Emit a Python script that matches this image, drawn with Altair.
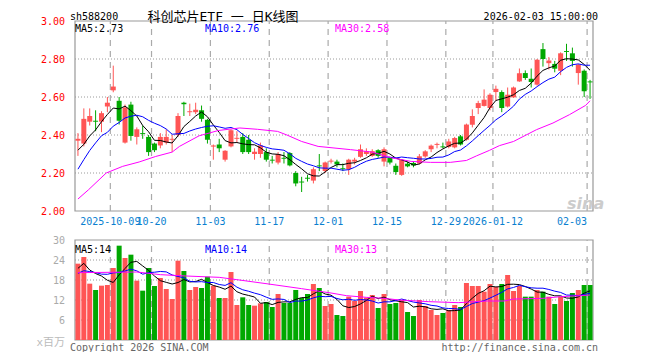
import altair as alt
import pandas as pd
import numpy as np

# ---------------- data ----------------
opens = [2.37, 2.355, 2.47, 2.475, 2.47, 2.55, 2.635, 2.58, 2.36, 2.56,
         2.39, 2.41, 2.39, 2.355, 2.345, 2.36, 2.375, 2.40, 2.57, 2.52,
         2.52, 2.53, 2.48, 2.339, 2.35, 2.27, 2.34, 2.38, 2.39, 2.375,
         2.30, 2.30, 2.31, 2.27, 2.255, 2.28, 2.305, 2.20, 2.155, 2.175,
         2.16, 2.24, 2.21, 2.26, 2.26, 2.225, 2.22, 2.26, 2.285, 2.30,
         2.29, 2.32, 2.26, 2.28, 2.238, 2.19, 2.249, 2.253, 2.25, 2.287,
         2.325, 2.348, 2.34, 2.337, 2.335, 2.393, 2.375, 2.454, 2.542, 2.553,
         2.542, 2.626, 2.626, 2.55, 2.598, 2.682, 2.726, 2.696, 2.665, 2.852,
         2.778, 2.774, 2.738, 2.842, 2.83, 2.726, 2.738, 2.682]
highs = [2.41, 2.54, 2.54, 2.53, 2.525, 2.60, 2.765, 2.60, 2.56, 2.575,
         2.44, 2.45, 2.40, 2.36, 2.41, 2.43, 2.40, 2.515, 2.575, 2.565,
         2.57, 2.555, 2.485, 2.35, 2.38, 2.32, 2.43, 2.42, 2.41, 2.40,
         2.33, 2.36, 2.33, 2.29, 2.31, 2.31, 2.31, 2.21, 2.18, 2.19,
         2.23, 2.30, 2.26, 2.275, 2.27, 2.25, 2.275, 2.28, 2.35, 2.33,
         2.325, 2.325, 2.335, 2.285, 2.25, 2.27, 2.26, 2.26, 2.30, 2.32,
         2.35, 2.36, 2.36, 2.38, 2.39, 2.40, 2.46, 2.535, 2.58, 2.64,
         2.62, 2.66, 2.635, 2.65, 2.655, 2.75, 2.74, 2.75, 2.80, 2.884,
         2.81, 2.79, 2.835, 2.88, 2.86, 2.774, 2.745, 2.69]
lows = [2.29, 2.34, 2.45, 2.42, 2.415, 2.52, 2.625, 2.455, 2.355, 2.37,
        2.35, 2.38, 2.29, 2.31, 2.33, 2.35, 2.31, 2.39, 2.50, 2.50,
        2.51, 2.47, 2.355, 2.27, 2.31, 2.26, 2.335, 2.36, 2.30, 2.30,
        2.27, 2.28, 2.26, 2.25, 2.245, 2.25, 2.235, 2.13, 2.10, 2.155,
        2.145, 2.21, 2.20, 2.25, 2.23, 2.21, 2.19, 2.245, 2.28, 2.29,
        2.285, 2.28, 2.235, 2.245, 2.19, 2.185, 2.23, 2.23, 2.245, 2.28,
        2.31, 2.33, 2.33, 2.33, 2.33, 2.345, 2.37, 2.44, 2.51, 2.55,
        2.53, 2.58, 2.52, 2.545, 2.595, 2.68, 2.69, 2.65, 2.66, 2.76,
        2.745, 2.73, 2.715, 2.79, 2.76, 2.665, 2.60, 2.59]
closes = [2.38, 2.485, 2.50, 2.47, 2.515, 2.57, 2.655, 2.475, 2.545, 2.395,
          2.43, 2.405, 2.31, 2.32, 2.39, 2.39, 2.38, 2.50, 2.562, 2.525,
          2.533, 2.485, 2.375, 2.345, 2.33, 2.317, 2.425, 2.385, 2.31, 2.31,
          2.312, 2.345, 2.27, 2.265, 2.30, 2.275, 2.24, 2.145, 2.15, 2.17,
          2.22, 2.235, 2.255, 2.265, 2.245, 2.22, 2.27, 2.27, 2.325, 2.315,
          2.315, 2.29, 2.325, 2.255, 2.205, 2.27, 2.235, 2.24, 2.288, 2.314,
          2.344, 2.353, 2.335, 2.366, 2.384, 2.35, 2.455, 2.50, 2.568, 2.586,
          2.612, 2.643, 2.542, 2.612, 2.65, 2.725, 2.70, 2.679, 2.796, 2.80,
          2.792, 2.749, 2.83, 2.837, 2.79, 2.77, 2.63, 2.677]
volumes = [22.9, 24.9, 16.9, 15.0, 16.3, 16.5, 21.6, 28.3, 24.6, 25.6,
           17.8, 14.8, 21.6, 16.2, 18.6, 15.3, 12.3, 23.8, 20.7, 15.0,
           15.9, 15.6, 19.0, 16.3, 12.6, 12.6, 20.4, 10.5, 12.8, 10.5,
           10.3, 11.0, 11.4, 9.9, 13.8, 11.1, 11.1, 15.0, 12.6, 13.8,
           16.8, 15.6, 10.2, 10.8, 7.5, 7.2, 13.0, 11.7, 14.7, 12.7,
           13.5, 9.6, 13.8, 10.8, 11.1, 12.0, 8.4, 7.2, 12.0, 10.2,
           9.0, 7.5, 8.1, 9.0, 10.5, 9.9, 17.1, 16.2, 16.2, 14.5,
           16.8, 15.9, 16.8, 19.5, 14.7, 16.2, 13.0, 13.0, 15.0, 14.5,
           13.0, 10.8, 13.0, 11.7, 14.1, 15.0, 16.5, 16.5]
# sessions just before the window (estimated from where the MA lines start)
prior_close = [1.98, 2.02, 2.07, 2.14, 2.39, 2.33, 2.28, 2.31, 2.30]
prior_volume = [17.0, 19.5, 18.0, 21.0, 17.0, 17.4, 26.9, 20.3, 20.0]

# MA30 lines (session index, value)
ma30_idx = [0, 1.8, 4.8, 7.6, 10.4, 13.2, 16, 17.25, 20.6, 23.9, 27.5, 30.5, 33.9,
            35.5, 38, 40.8, 46.3, 50, 53.25, 56.6, 59.9, 63.25, 66, 67.7, 69.9,
            71.6, 74, 77.9, 80.7, 83.5, 86.25, 87]
ma30_val = [2.063, 2.112, 2.20, 2.235, 2.258, 2.287, 2.31, 2.34, 2.396, 2.424, 2.437,
            2.43, 2.419, 2.40, 2.366, 2.34, 2.323, 2.31, 2.28, 2.261, 2.256, 2.256,
            2.266, 2.29, 2.319, 2.344, 2.366, 2.428, 2.463, 2.507, 2.556, 2.58]
vma30_idx = [0, 10, 14, 18.4, 24, 27, 32.4, 38, 43, 45.6, 49, 52, 54.6, 59.6,
             64.6, 69.6, 72.4, 74, 79, 82, 85.3, 87]
vma30_val = [20.2, 20.4, 19.6, 19.2, 18.8, 18.1, 16.8, 15.4, 14.1, 13.3, 12.8, 12.5,
             12.0, 11.5, 11.2, 11.7, 11.7, 12.3, 12.5, 13.0, 13.3, 13.5]

tick_index = [6, 13, 23, 33, 43, 53, 63, 71, 87]
tick_label = ["2025-10-09", "10-20", "11-03", "11-17", "12-01", "12-15",
              "12-29", "2026-01-12", "02-03"]
price_ticks = [2.00, 2.20, 2.40, 2.60, 2.80, 3.00]
vol_ticks = [6, 12, 18, 24, 30]
price_domain = [2.0, 3.0]
vol_domain = [0, 30]
ma_price_last = ["2.73", "2.76", "2.58"]
ma_vol_last = ["14", "14", "13"]

# ---------------- styling / layout ----------------
RED, GREEN = "#ff5555", "#00a800"
BLUE_TXT = "#0a7fd0"
MONO = "DejaVu Sans Mono"
CJK = "DejaVu Sans Mono, Noto Sans CJK SC"
W, H = 528, 319
P_RANGE = [190, 0]
V_RANGE = [319, 219]

n = len(closes)
XS = alt.Scale(domain=[-0.5, n - 0.5], nice=False, zero=False)
PS = alt.Scale(domain=price_domain, range=P_RANGE, nice=False, zero=False)
VS = alt.Scale(domain=vol_domain, range=V_RANGE, nice=False)

df = pd.DataFrame(dict(i=np.arange(n), open=opens, high=highs, low=lows,
                       close=closes, vol=volumes))
df["dir"] = np.where(df["close"] >= df["open"], "up", "down")
pc = pd.Series(prior_close + closes)
pv = pd.Series(prior_volume + volumes)
df["ma5"] = pc.rolling(5).mean().to_numpy()[len(prior_close):]
df["ma10"] = pc.rolling(10).mean().to_numpy()[len(prior_close):]
df["vma5"] = pv.rolling(5).mean().to_numpy()[len(prior_volume):]
df["vma10"] = pv.rolling(10).mean().to_numpy()[len(prior_volume):]

ma30_df = pd.DataFrame({"i": ma30_idx, "v": ma30_val})
vma30_df = pd.DataFrame({"i": vma30_idx, "v": vma30_val})

color = alt.Color("dir:N", scale=alt.Scale(domain=["up", "down"], range=[RED, GREEN]),
                  legend=None)
X = alt.X("i:Q", scale=XS, axis=None)


def Yp(f):
    return alt.Y(f, scale=PS, axis=None)


def Yv(f):
    return alt.Y(f, scale=VS, axis=None)


lo, hi = -0.5, n - 0.5
frame_df = pd.DataFrame({"x1": [lo], "x2": [hi], "p1": [price_domain[0]], "p2": [price_domain[1]],
                         "v1": [vol_domain[0]], "v2": [vol_domain[1]]})
frame_p = alt.Chart(frame_df).mark_rect(fillOpacity=0, stroke="#999999", strokeWidth=1.2).encode(
    x=alt.X("x1:Q", scale=XS, axis=None), x2="x2:Q", y=Yp("p1:Q"), y2="p2:Q")
frame_v = alt.Chart(frame_df).mark_rect(fillOpacity=0, stroke="#999999", strokeWidth=1.2).encode(
    x=alt.X("x1:Q", scale=XS, axis=None), x2="x2:Q", y=Yv("v1:Q"), y2="v2:Q")

hg_p = pd.DataFrame({"p": price_ticks[1:-1], "x1": lo, "x2": hi})
hg_v = pd.DataFrame({"v": vol_ticks[:-1], "x1": lo, "x2": hi})
hgrid_p = alt.Chart(hg_p).mark_rule(color="#9a9a9a", strokeDash=[1, 2]).encode(
    x=alt.X("x1:Q", scale=XS, axis=None), x2="x2:Q", y=Yp("p:Q"))
hgrid_v = alt.Chart(hg_v).mark_rule(color="#9a9a9a", strokeDash=[1, 2]).encode(
    x=alt.X("x1:Q", scale=XS, axis=None), x2="x2:Q", y=Yv("v:Q"))

vg = pd.DataFrame({"x": [t - 0.5 for t in tick_index], "label": tick_label,
                   "p1": price_domain[0], "p2": price_domain[1],
                   "v1": vol_domain[0], "v2": vol_domain[1]})
vgrid_p = alt.Chart(vg).mark_rule(color="#aaaaaa", strokeDash=[6, 5], strokeWidth=1.2).encode(
    x=alt.X("x:Q", scale=XS, axis=None), y=Yp("p1:Q"), y2="p2:Q")
vgrid_v = alt.Chart(vg).mark_rule(color="#aaaaaa", strokeDash=[6, 5], strokeWidth=1.2).encode(
    x=alt.X("x:Q", scale=XS, axis=None), y=Yv("v1:Q"), y2="v2:Q")

base = alt.Chart(df)
wick = base.mark_rule(strokeWidth=1).encode(x=X, y=Yp("low:Q"), y2="high:Q", color=color)
body = base.mark_bar(size=5).encode(x=X, y=Yp("open:Q"), y2="close:Q", color=color)
vbar = base.mark_bar(size=5).encode(x=X, y=Yv("vol:Q"), color=color)

ma5 = base.mark_line(color="#000000", strokeWidth=1).encode(x=X, y=Yp("ma5:Q"))
ma10 = base.mark_line(color="#0000ff", strokeWidth=1).encode(x=X, y=Yp("ma10:Q"))
ma30 = alt.Chart(ma30_df).mark_line(color="#ff00ff", strokeWidth=1).encode(x=X, y=Yp("v:Q"))
vma5 = base.mark_line(color="#000000", strokeWidth=1).encode(x=X, y=Yv("vma5:Q"))
vma10 = base.mark_line(color="#0000ff", strokeWidth=1).encode(x=X, y=Yv("vma10:Q"))
vma30 = alt.Chart(vma30_df).mark_line(color="#ff00ff", strokeWidth=1).encode(x=X, y=Yv("v:Q"))

pt_df = pd.DataFrame({"p": price_ticks, "label": [f"{v:.2f}" for v in price_ticks]})
plabels = alt.Chart(pt_df).mark_text(align="right", baseline="middle", color="#ff0000",
                                     font=MONO, fontSize=10, dy=1).encode(
    y=Yp("p:Q"), x=alt.value(-5), text="label:N")
vt_df = pd.DataFrame({"v": vol_ticks, "label": [str(v) for v in vol_ticks]})
vlabels = alt.Chart(vt_df).mark_text(align="right", baseline="middle", color="#aaaaaa",
                                     font=MONO, fontSize=10, dy=1).encode(
    y=Yv("v:Q"), x=alt.value(-5), text="label:N")

dlabels = alt.Chart(vg.iloc[:-1]).mark_text(align="center", baseline="middle", color=BLUE_TXT,
                                            font=MONO, fontSize=10).encode(
    x=alt.X("x:Q", scale=XS, axis=None), y=alt.value(201), text="label:N")
dlabel_last = alt.Chart(vg.iloc[-1:]).mark_text(align="right", baseline="middle", color=BLUE_TXT,
                                                font=MONO, fontSize=10).encode(
    x=alt.X("x:Q", scale=XS, axis=None), y=alt.value(201), text="label:N")


def label(txt, x, y, **kw):
    return alt.Chart(pd.DataFrame({"t": [txt]})).mark_text(**kw).encode(
        text="t:N", x=alt.value(x), y=alt.value(y))


texts = [
    label("sh588200", 0, -4, align="left", font=MONO, fontSize=10, color="#000000"),
    label("科创芯片ETF 一 日K线图", 153, -4, align="center", font=CJK, fontSize=13, color="#000000"),
    label("2026-02-03 15:00:00", W, -4, align="right", font=MONO, fontSize=10, color="#000000"),
    label("MA5:" + ma_price_last[0], 5, 8, align="left", font=MONO, fontSize=10, color="#000000"),
    label("MA10:" + ma_price_last[1], 135, 8, align="left", font=MONO, fontSize=10, color="#0000ff"),
    label("MA30:" + ma_price_last[2], 265, 8, align="left", font=MONO, fontSize=10, color="#ff00ff"),
    label("MA5:" + ma_vol_last[0], 5, 229, align="left", font=MONO, fontSize=10, color="#000000"),
    label("MA10:" + ma_vol_last[1], 135, 229, align="left", font=MONO, fontSize=10, color="#0000ff"),
    label("MA30:" + ma_vol_last[2], 265, 229, align="left", font=MONO, fontSize=10, color="#ff00ff"),
    label("x百万", -5, 322, align="right", font=CJK, fontSize=11, color="#bbbbbb"),
    label("Copyright 2026 SINA.COM", 0, 327, align="left", font=MONO, fontSize=10, color="#666666"),
    label("http://finance.sina.com.cn", W, 327, align="right", font=MONO, fontSize=10, color="#666666"),
    label("sina", 497, 183, align="left", font="DejaVu Sans", fontSize=16, fontWeight="bold",
          fontStyle="italic", color="#cccccc"),
]

layers = [frame_p, frame_v, hgrid_p, hgrid_v, vgrid_p, vgrid_v,
          wick, body, vbar, ma5, ma10, ma30, vma5, vma10, vma30,
          plabels, vlabels, dlabels, dlabel_last] + texts

chart = alt.layer(*layers).resolve_scale(y="independent").properties(
    width=W, height=H,
    autosize=alt.AutoSizeParams(type="none"),
    padding={"left": 62, "top": 13, "right": 54, "bottom": 12},
    background="white",
).configure_view(stroke=None)

chart.save("out.html", embed_options={"renderer": "svg", "actions": False})
